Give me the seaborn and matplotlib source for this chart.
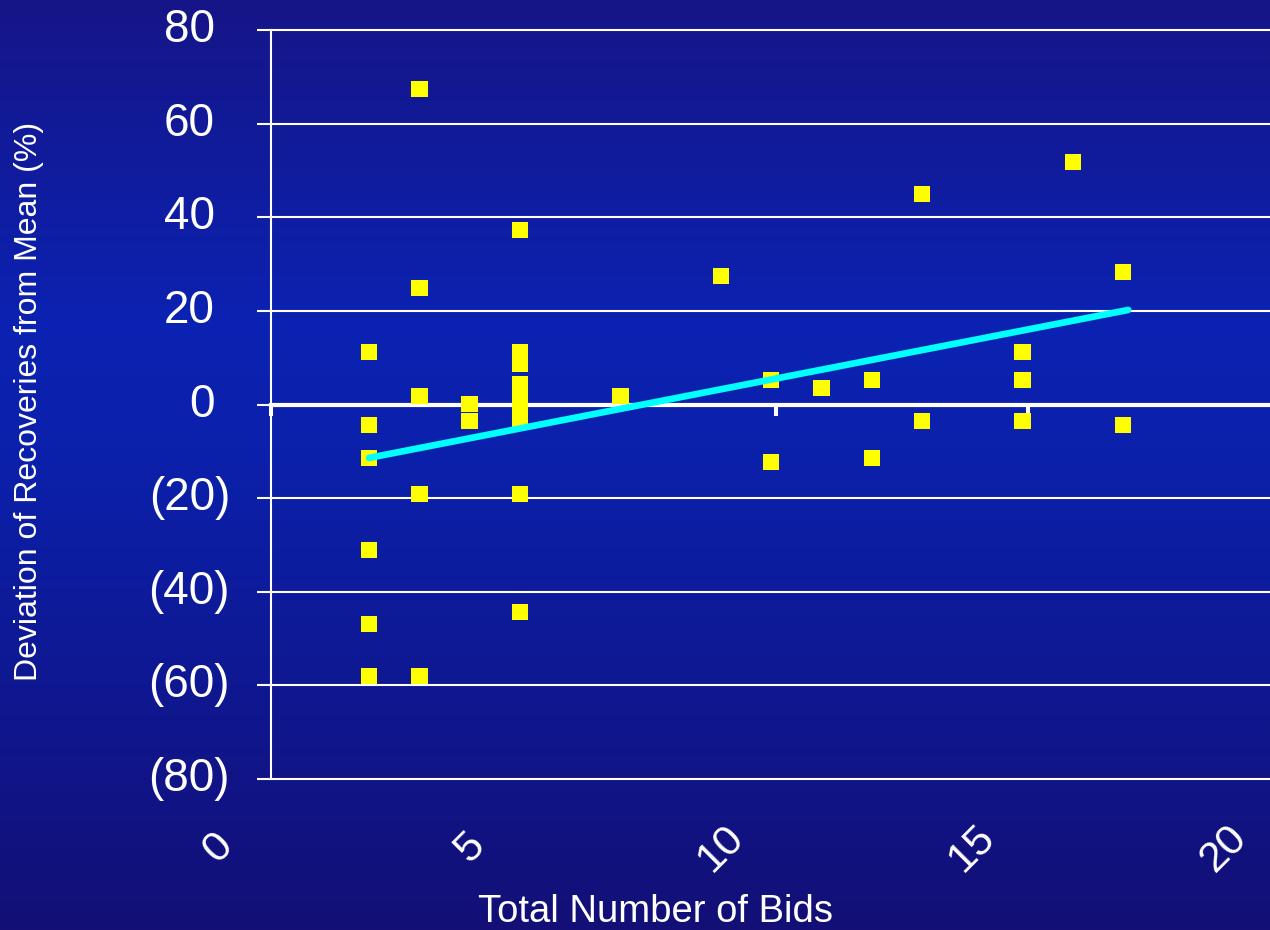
import matplotlib
matplotlib.use("Agg")
import matplotlib.pyplot as plt
import matplotlib.transforms as mtransforms
from matplotlib.colors import LinearSegmentedColormap
import numpy as np
import pandas as pd
import seaborn as sns

plt.rcParams['font.family'] = ['Liberation Sans', 'DejaVu Sans']

# data
bids = [3, 3, 3, 3, 3, 3,
        4, 4, 4, 4, 4,
        5, 5,
        6, 6, 6, 6, 6, 6, 6, 6, 6,
        8, 10, 11, 11, 12, 13, 13, 14, 14,
        16, 16, 16, 17, 18, 18]
deviation = [11.2, -4.4, -11.4, -31.1, -46.9, -58.0,
             67.4, 24.9, 1.8, -19.1, -58.0,
             0.1, -3.5,
             37.3, 11.2, 8.7, 4.4, 1.0, -1.5, -3.5, -19.1, -44.3,
             1.8, 27.5, 5.2, -12.3, 3.5, 5.2, -11.4, 45.0, -3.5,
             11.2, 5.2, -3.5, 51.8, 28.3, -4.4]
trend_bids = [3, 18.1]
trend_dev = [-11.4, 20.2]

y_ticks = [80, 60, 40, 20, 0, -20, -40, -60, -80]
x_tick_labels = [0, 5, 10, 15, 20]
zero_line_ticks = [1.05, 6.1, 11.1, 16.1]

df = pd.DataFrame({'bids': bids, 'deviation': deviation})
trend = pd.DataFrame({'bids': trend_bids, 'deviation': trend_dev})

fig = plt.figure(figsize=(12.7, 9.3), dpi=100)

# gradient background
bg = fig.add_axes([0, 0, 1, 1], zorder=-1)
cmap = LinearSegmentedColormap.from_list(
    'bg', [(0.0, '#161587'), (0.35, '#0b22b2'), (0.5, '#0b20aa'), (1.0, '#130f76')])
grad = np.linspace(0, 1, 256).reshape(-1, 1)
bg.imshow(grad, aspect='auto', cmap=cmap, extent=[0, 1, 0, 1])
bg.axis('off')

ax = fig.add_axes([271 / 1270, 151 / 930, 999 / 1270, 749 / 930])
ax.set_facecolor('none')

sns.scatterplot(data=df, x='bids', y='deviation', marker='s', s=140,
                color='#ffff00', edgecolor='none', linewidth=0, zorder=3, ax=ax)
sns.lineplot(data=trend, x='bids', y='deviation', color='#00ffff', linewidth=4.8,
             estimator=None, zorder=4, ax=ax, solid_capstyle='round')

ax.set_xlim(1.05, 20.92)
ax.set_ylim(-80, 80)
ax.set_xlabel('')
ax.set_ylabel('')

# spines
for s in ['top', 'right']:
    ax.spines[s].set_visible(False)
ax.spines['left'].set_color('white')
ax.spines['left'].set_linewidth(1.5)
ax.spines['bottom'].set_position(('data', 0))
ax.spines['bottom'].set_color('white')
ax.spines['bottom'].set_linewidth(3.0)
ax.spines['bottom'].set_zorder(2)

# grid
ax.set_yticks(y_ticks)
ax.yaxis.grid(True, color='white', linewidth=1.5)
ax.set_axisbelow(True)
for gl in ax.get_ygridlines():
    gl.set_clip_on(False)
ax.tick_params(axis='y', direction='out', length=10, width=1.5, color='white',
               labelleft=False)
ax.set_xticks(zero_line_ticks)
ax.tick_params(axis='x', direction='out', length=8, width=2.9, color='white',
               labelbottom=False)

# y tick labels, accounting style
ytrans = ax.get_yaxis_transform()
for v in y_ticks:
    if v < 0:
        txt = '({})'.format(abs(v))
        off = -41
    else:
        txt = str(v)
        off = -56
    tr = mtransforms.offset_copy(ytrans, fig=fig, x=off, y=0, units='dots')
    ax.text(0, v, txt, transform=tr, ha='right', va='center', color='white',
            fontsize=33)

# x tick labels, rotated
xtrans = mtransforms.offset_copy(ax.get_xaxis_transform(), fig=fig, x=0, y=-69,
                                 units='dots')
for v in x_tick_labels:
    ax.text(v, 0, str(v), transform=xtrans, ha='center', va='center',
            rotation=45, color='white', fontsize=31)

fig.text(655 / 1270, 8 / 930, 'Total Number of Bids', ha='center', va='baseline',
         color='white', fontsize=27.5)
fig.text(37 / 1270, 1 - 401 / 930, 'Deviation of Recoveries from Mean (%)',
         rotation=90, rotation_mode='anchor', ha='center', va='baseline',
         color='white', fontsize=23)

fig.savefig('out.png', dpi=100)
